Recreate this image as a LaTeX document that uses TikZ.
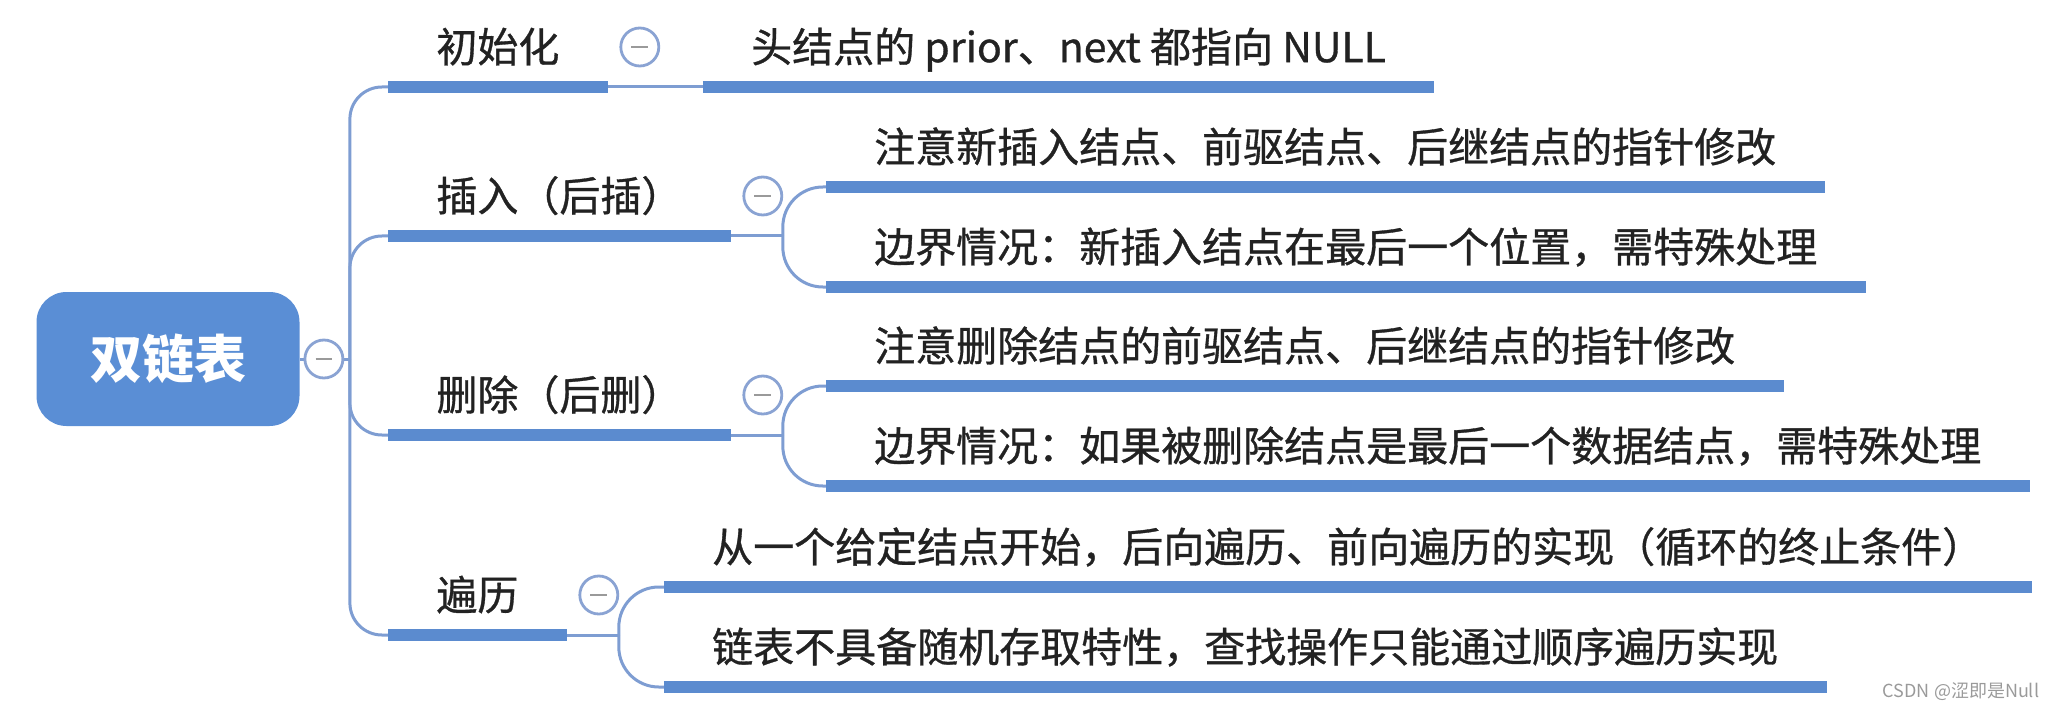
\documentclass[tikz,border=0pt]{standalone}
\usepackage{fontspec}
\setmainfont{Noto Sans CJK SC}
\newfontfamily\topicfont{Noto Sans CJK SC}[FakeBold=0.8]
\usetikzlibrary{positioning}
\definecolor{barBlue}{HTML}{5B8BCF}
\definecolor{rootBlue}{HTML}{5A8ED5}
\definecolor{linkBlue}{HTML}{7E9DD2}
\definecolor{markBlue}{HTML}{8AA3D3}
\definecolor{inkGray}{HTML}{222222}
\definecolor{wmGray}{HTML}{9A9A9A}
\begin{document}
\begin{tikzpicture}[x=0.5pt, y=-0.5pt, font=\topicfont\fontsize{20.5pt}{24pt}\selectfont ,
topic/.style={anchor=south west, inner xsep=24pt, inner ysep=6pt, text height=18.5pt, text depth=6.2pt, text=inkGray} ,
bar/.style={draw=barBlue, line width=6pt} ,
link/.style={draw=linkBlue, line width=1.5pt} ,
collapse/.style={circle, draw=markBlue, line width=1.4pt, fill=white, minimum size=19pt, inner sep=0pt} ,
foldDash/.style={draw=wmGray, line width=1pt} ,
rootBox/.style={rectangle, rounded corners=15pt, fill=rootBlue, text=white, minimum width=131.5pt, minimum height=67pt, font=\normalfont\fontsize{26pt}{30pt}\selectfont\bfseries}
]
\useasboundingbox (0,0) rectangle (2059,711) ;

\node (root) at (168,359) [rootBox] {双链表} ;
\coordinate (root-fork) at ([xshift=25pt]root.east) ;

\node (init) at (388,87) [topic] {初始化} ;
\node (ins) at (388,236) [topic] {插入（后插）} ;
\node (del) at (388,435) [topic] {删除（后删）} ;
\node (trav) at (388,635) [topic] {遍历} ;

\coordinate (ins-fork) at ([xshift=26pt]ins.south east) ;
\coordinate (del-fork) at ([xshift=26pt]del.south east) ;
\coordinate (trav-fork) at ([xshift=26pt]trav.south east) ;

\node (initA) at ([xshift=47.5pt]init.south east) [topic] {头结点的 prior、next 都指向 NULL} ;
\node (insA) at ([xshift=21.5pt, yshift=24.5pt]ins-fork) [topic] {注意新插入结点、前驱结点、后继结点的指针修改} ;
\node (insB) at ([xshift=21.5pt, yshift=-25.5pt]ins-fork) [topic] {边界情况：新插入结点在最后一个位置，需特殊处理} ;
\node (delA) at ([xshift=21.5pt, yshift=24.5pt]del-fork) [topic] {注意删除结点的前驱结点、后继结点的指针修改} ;
\node (delB) at ([xshift=21.5pt, yshift=-25.5pt]del-fork) [topic] {边界情况：如果被删除结点是最后一个数据结点，需特殊处理} ;
\node (travA) at ([xshift=22.5pt, yshift=24pt]trav-fork) [topic] {从一个给定结点开始，后向遍历、前向遍历的实现（循环的终止条件）} ;
\node (travB) at ([xshift=22.5pt, yshift=-26pt]trav-fork) [topic] {链表不具备随机存取特性，查找操作只能通过顺序遍历实现} ;

\draw [link] (root.east) -- (root-fork) ;
\foreach \t in {init, ins, del, trav}
    \draw [link, rounded corners=16pt] (root-fork) |- (\t.south west) ;
\draw [link] (init.south east) -- (initA.south west) ;
\foreach \t/\a/\b in {ins/insA/insB, del/delA/delB, trav/travA/travB} {
    \draw [link] (\t.south east) -- (\t-fork) ;
    \draw [link, rounded corners=20pt] (\t-fork) |- (\a.south west) ;
    \draw [link, rounded corners=20pt] (\t-fork) |- (\b.south west) ;
}
\foreach \n in {init, ins, del, trav, initA, insA, insB, delA, delB, travA, travB}
    \draw [bar] (\n.south west) -- (\n.south east) ;

\node (root-mark) at ([xshift=12pt]root.east) [collapse] {} ;
\foreach \t in {init, ins, del, trav}
    \node (\t-mark) at ([xshift=16pt, yshift=20pt]\t.south east) [collapse] {} ;
\foreach \m in {root, init, ins, del, trav}
    \draw [foldDash] ([xshift=-4.2pt]\m-mark.center) -- ([xshift=4.2pt]\m-mark.center) ;

\node (watermark) at (1961,692) [font=\normalfont\fontsize{9pt}{10pt}\selectfont, text=wmGray] {CSDN @涩即是Null} ;
\end{tikzpicture}
\end{document}
